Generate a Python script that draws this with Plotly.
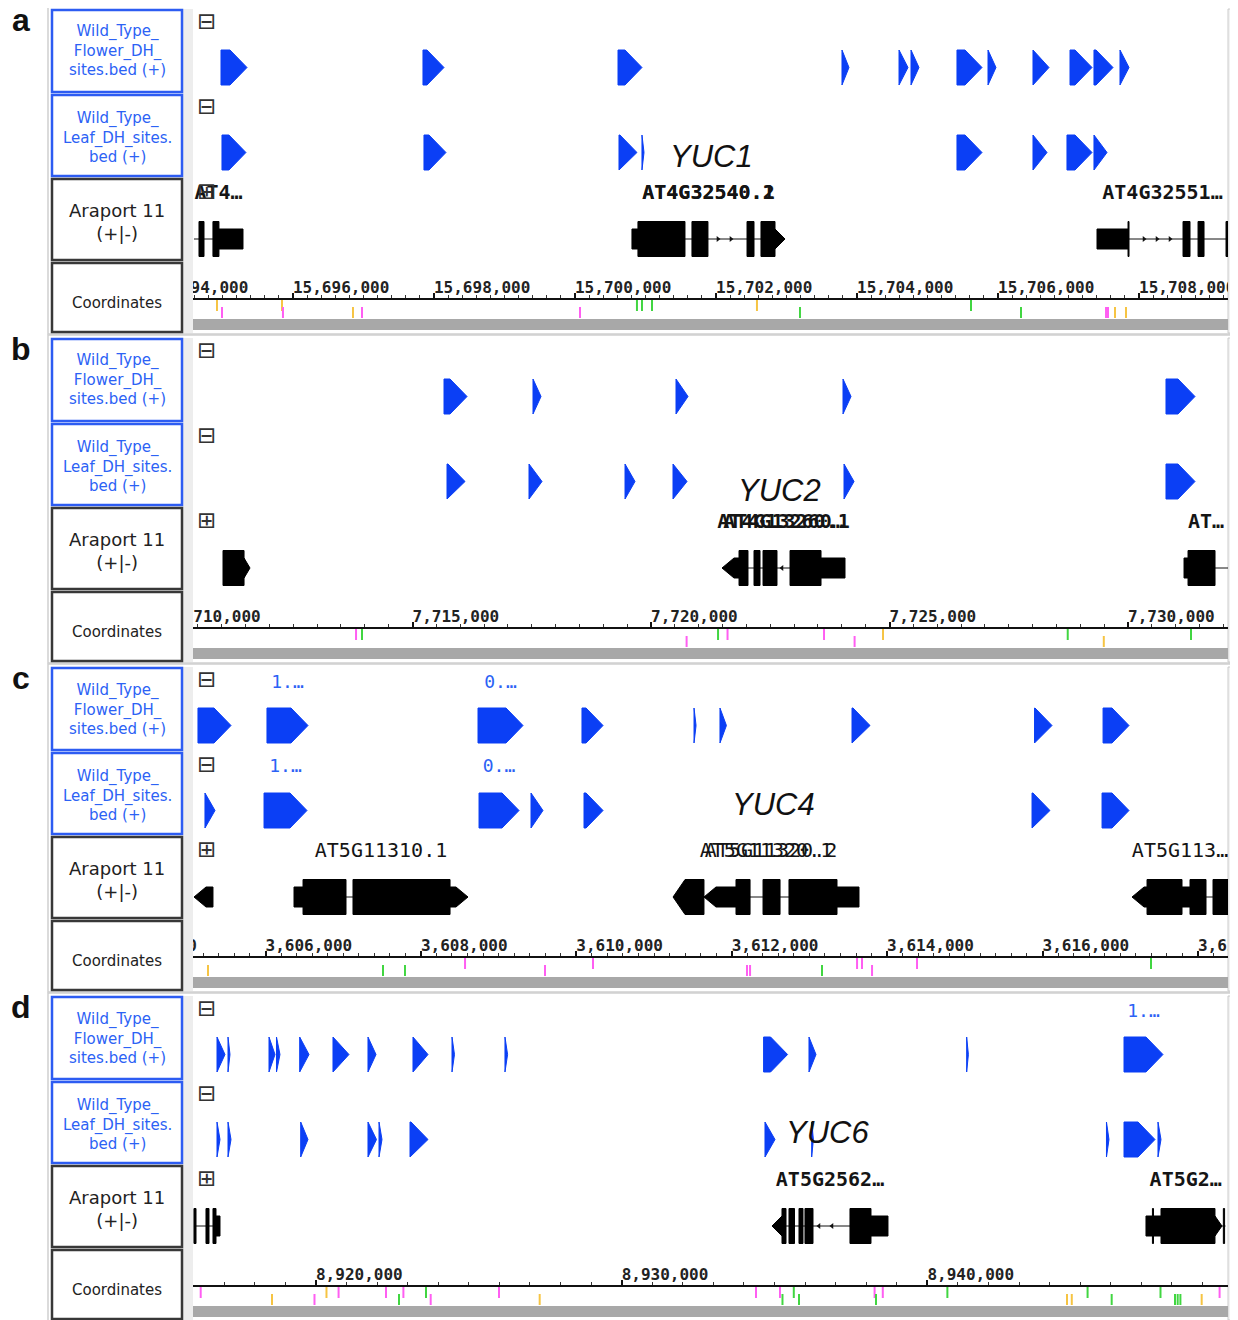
import numpy as np
import plotly.graph_objects as go

# page body adds an 8px margin, so the figure is drawn 8px in from the corner
OFF = 8
W, H = 1238 - OFF, 1320 - OFF

# ------------------------------------------------------------------ data
panel_letters = ["a", "b", "c", "d"]
yuc_names = ["YUC1", "YUC2", "YUC4", "YUC6"]
track_titles = ["Wild_Type_<br>Flower_DH_<br>sites.bed (+)",
                "Wild_Type_<br>Leaf_DH_sites.<br>bed (+)",
                "Araport 11<br>(+|-)",
                "Coordinates"]

# visible genomic window and major tick step of each panel
view_ranges = [(15694582, 15709262), (7710398, 7732096),
               (3605067, 3618387), (8915977, 8949832)]
major_steps = [2000, 5000, 2000, 10000]

# ---- panel a (YUC1)
flower_a = [(15694979, 15695348), (15697844, 15698142), (15700610, 15700950),
            (15703787, 15703886), (15704596, 15704723), (15704766, 15704879),
            (15705418, 15705773), (15705858, 15705971), (15706496, 15706723),
            (15707021, 15707333), (15707361, 15707631), (15707730, 15707858)]
flower_a_names = [""] * 12
leaf_a = [(15694993, 15695333), (15697858, 15698170), (15700624, 15700879),
          (15700950, 15700979), (15705418, 15705773), (15706496, 15706695),
          (15706978, 15707333), (15707361, 15707546)]
leaf_a_names = [""] * 8
genes_a = [
    dict(labels=["AT4…"], strand="+", intron=(15694596, 15695291),
         blocks=[(15694667, 15694738, "C"), (15694865, 15694950, "C"), (15694950, 15695291, "U")]),
    dict(labels=["AT4G32540.1", "AT4G32540.2"], strand="+", intron=(15700808, 15702979),
         blocks=[(15700808, 15700893, "U"), (15700893, 15701560, "C"), (15701659, 15701886, "C"),
                 (15702440, 15702539, "C"), (15702638, 15702837, "C"), (15702837, 15702979, "UR")]),
    dict(labels=["AT4G32551…"], strand="+", intron=(15707404, 15709290),
         blocks=[(15707404, 15707844, "U"), (15707844, 15707858, "C"), (15708624, 15708723, "C"),
                 (15708837, 15708922, "C"), (15709234, 15709262, "C")]),
]
marks_a = [(15694922, "Y", 0), (15694993, "P", 1), (15695844, "Y", 0), (15695858, "P", 1),
           (15696851, "Y", 1), (15696979, "P", 1), (15700071, "P", 1), (15700879, "G", 0),
           (15700950, "G", 0), (15701092, "G", 0), (15702581, "Y", 0), (15703191, "G", 1),
           (15705617, "G", 0), (15706326, "G", 1), (15707532, "P", 1), (15707560, "P", 1),
           (15707659, "Y", 1), (15707815, "Y", 1)]

# ---- panel b (YUC2)
flower_b = [(7715660, 7716143), (7717526, 7717694), (7720524, 7720776),
            (7724025, 7724193), (7730796, 7731404)]
flower_b_names = [""] * 5
leaf_b = [(7715723, 7716101), (7717442, 7717715), (7719455, 7719664),
          (7720461, 7720755), (7724046, 7724256), (7730796, 7731404)]
leaf_b_names = [""] * 6
genes_b = [
    dict(labels=[], strand="+", intron=None,
         blocks=[(7711027, 7711468, "C"), (7711468, 7711593, "UR")]),
    dict(labels=["AT4G13260.1", "AT4G13260…"], strand="-", intron=(7721488, 7724067),
         blocks=[(7721488, 7721845, "UL"), (7721845, 7722033, "C"), (7722159, 7722285, "C"),
                 (7722348, 7722641, "C"), (7722914, 7723564, "C"), (7723564, 7724067, "U")]),
    dict(labels=["AT…"], strand="+", intron=(7731174, 7732243),
         blocks=[(7731174, 7731258, "U"), (7731258, 7731824, "C")]),
]
marks_b = [(7713816, "P", 0), (7713941, "G", 0), (7720746, "P", 1), (7721405, "G", 0),
           (7721604, "P", 0), (7723627, "P", 0), (7724268, "P", 1), (7724864, "Y", 0),
           (7728736, "G", 0), (7729492, "Y", 1), (7731320, "G", 0)]

# ---- panel c (YUC4)
flower_c = [(3605131, 3605556), (3606019, 3606547), (3608735, 3609314),
            (3610073, 3610344), (3611515, 3611541), (3611849, 3611932),
            (3613548, 3613780), (3615897, 3616122), (3616779, 3617113)]
flower_c_names = ["", "1.…", "0.…", "", "", "", "", "", ""]
leaf_c = [(3605221, 3605350), (3605981, 3606534), (3608748, 3609263),
          (3609417, 3609571), (3610099, 3610344), (3615865, 3616096),
          (3616766, 3617113)]
leaf_c_names = ["", "1.…", "0.…", "", "", "", ""]
genes_c = [
    dict(labels=[], strand="-", intron=None, blocks=[(3605080, 3605324, "UL")]),
    dict(labels=["AT5G11310.1"], strand="+", intron=(3606367, 3608606),
         blocks=[(3606367, 3606483, "U"), (3606483, 3607036, "C"), (3607126, 3608375, "C"),
                 (3608375, 3608606, "UR")]),
    dict(labels=["AT5G11320.1", "AT5G11320.2"], strand="-", intron=(3611245, 3613638),
         blocks=[(3611245, 3611643, "CL"), (3611643, 3612055, "UL"), (3612055, 3612236, "C"),
                 (3612403, 3612622, "C"), (3612737, 3613355, "C"), (3613355, 3613638, "U")]),
    dict(labels=["AT5G113…"], strand="-", intron=(3617152, 3618477),
         blocks=[(3617152, 3617345, "UL"), (3617345, 3617795, "C"), (3617795, 3617898, "U"),
                 (3617898, 3618104, "C"), (3618194, 3618477, "C")]),
]
marks_c = [(3605260, "Y", 1), (3607512, "G", 1), (3607795, "G", 1), (3608568, "P", 0),
           (3609597, "P", 1), (3610215, "P", 0), (3612197, "P", 1), (3612236, "P", 1),
           (3613162, "G", 1), (3613613, "P", 0), (3613677, "P", 0), (3613806, "P", 1),
           (3614385, "P", 0), (3617396, "G", 0)]

# ---- panel d (YUC6)
flower_d = [(8916762, 8917023), (8917122, 8917187), (8918463, 8918659), (8918708, 8918822),
            (8919467, 8919771), (8920556, 8921079), (8921701, 8921963), (8923173, 8923664),
            (8924449, 8924530), (8926182, 8926267), (8934641, 8935426), (8936126, 8936355),
            (8941284, 8941340), (8946430, 8947705)]
flower_d_names = [""] * 13 + ["1.…"]
leaf_d = [(8916762, 8916860), (8917122, 8917220), (8919500, 8919738), (8921701, 8921979),
          (8922061, 8922159), (8923075, 8923664), (8934687, 8935014), (8936214, 8936270),
          (8945857, 8945939), (8946430, 8947444), (8947542, 8947640)]
leaf_d_names = [""] * 11
genes_d = [
    dict(labels=[], strand="+", intron=(8916009, 8916860),
         blocks=[(8916009, 8916075, "C"), (8916402, 8916500, "C"), (8916631, 8916729, "C"),
                 (8916729, 8916860, "U")]),
    dict(labels=["AT5G2562…"], strand="-", intron=(8934916, 8938710),
         blocks=[(8934916, 8935243, "UL"), (8935243, 8935374, "C"), (8935472, 8935652, "C"),
                 (8935799, 8935930, "C"), (8935995, 8936257, "C"), (8937467, 8938154, "C"),
                 (8938154, 8938710, "U")]),
    dict(labels=["AT5G2…"], strand="+", intron=(8947149, 8949750),
         blocks=[(8947149, 8947640, "U"), (8947360, 8947395, "C"), (8947640, 8949406, "C"),
                 (8949406, 8949635, "UR"), (8949680, 8949720, "C")]),
]
marks_d = [(8916229, "P", 0), (8918561, "Y", 1), (8919951, "P", 1), (8920343, "Y", 0),
           (8920739, "P", 0), (8922290, "P", 0), (8922715, "G", 1), (8922859, "P", 0),
           (8923598, "G", 0), (8923752, "P", 1), (8925986, "P", 0), (8927317, "Y", 1),
           (8934392, "P", 0), (8935177, "P", 0), (8935259, "G", 1), (8935629, "G", 0),
           (8935799, "G", 1), (8938272, "P", 0), (8938318, "G", 1), (8938540, "P", 0),
           (8940653, "G", 0), (8944565, "Y", 1), (8944722, "Y", 1), (8945239, "G", 0),
           (8946027, "G", 1), (8947624, "G", 0), (8948098, "G", 1), (8948186, "G", 1),
           (8948275, "G", 1), (8948971, "Y", 1), (8949557, "P", 0)]

panels = [
    dict(flower=flower_a, fnames=flower_a_names, leaf=leaf_a, lnames=leaf_a_names, genes=genes_a, marks=marks_a),
    dict(flower=flower_b, fnames=flower_b_names, leaf=leaf_b, lnames=leaf_b_names, genes=genes_b, marks=marks_b),
    dict(flower=flower_c, fnames=flower_c_names, leaf=leaf_c, lnames=leaf_c_names, genes=genes_c, marks=marks_c),
    dict(flower=flower_d, fnames=flower_d_names, leaf=leaf_d, lnames=leaf_d_names, genes=genes_d, marks=marks_d),
]

# ------------------------------------------------------------------ style / layout
X0, X1 = 193, 1228            # track area in window pixels
PANEL_TOP0, PITCH, PANEL_H = 9, 329, 324
BLUE = "#0b3ff5"
BOX_BLUE = "#2d5cf2"
TXT_BLUE = "#2c62f5"
mark_colors = {"Y": "#f6c443", "P": "#ff5ef2", "G": "#41d641"}
row_span = [(291, 302), (298, 309)]
Y_FLOWER, Y_LEAF, Y_GENE = 58.5, 143.5, 230
HALF_FEAT, HALF_CDS, HALF_UTR = 17.5, 17.5, 10
label_jitter_px = [0, 0, 5, 0]
gene_label_bold = [True, True, False, True]
yuc_pos = [(668, 157), (736, 490), (730, 804), (784, 1132)]


def px(x):
    return (x - OFF) / W


def py(y):
    return 1 - (y - OFF) / H


fig = go.Figure()
shapes, annotations = [], []
layout = {}

for i, P in enumerate(panels):
    T = PANEL_TOP0 + PITCH * i
    xr = "x" if i == 0 else f"x{i+1}"
    yr = "y" if i == 0 else f"y{i+1}"
    lo, hi = view_ranges[i]
    step = major_steps[i]
    bpp = (hi - lo) / (X1 - X0)

    # ---------------- blue DH-site features
    fx, fy = [], []
    for feats, yc in ((P["flower"], Y_FLOWER), (P["leaf"], Y_LEAF)):
        for s, e in feats:
            t = min(17 * bpp, e - s)
            fx += [s, e - t, e, e - t, s, s, None]
            fy += [yc - HALF_FEAT, yc - HALF_FEAT, yc, yc + HALF_FEAT, yc + HALF_FEAT, yc - HALF_FEAT, None]
    fig.add_trace(go.Scatter(x=fx, y=fy, mode="lines", fill="toself", fillcolor=BLUE,
                             line=dict(color=BLUE, width=1), xaxis=xr, yaxis=yr,
                             hoverinfo="skip", showlegend=False))

    # feature name labels
    lx, ly, lt = [], [], []
    for feats, names, yc in ((P["flower"], P["fnames"], 16), (P["leaf"], P["lnames"], 100)):
        for (s, e), nm in zip(feats, names):
            if nm:
                lx.append((s + e) / 2)
                ly.append(yc)
                lt.append(nm)
    if lt:
        fig.add_trace(go.Scatter(x=lx, y=ly, text=lt, mode="text", textposition="middle center",
                                 textfont=dict(family="DejaVu Sans Mono", size=18, color=TXT_BLUE),
                                 xaxis=xr, yaxis=yr, hoverinfo="skip", showlegend=False, cliponaxis=True))

    # ---------------- gene models
    gx, gy, ix, iy, cx, cy, csym = [], [], [], [], [], [], []
    glx, gly, glt = [], [], []
    for g in P["genes"]:
        for s, e, k in g["blocks"]:
            h = HALF_CDS if k[0] == "C" else HALF_UTR
            t = min(12 * bpp, e - s)
            top, bot = Y_GENE - h, Y_GENE + h
            if k.endswith("R"):
                gx += [s, e - t, e, e - t, s, s, None]
                gy += [top, top, Y_GENE, bot, bot, top, None]
            elif k.endswith("L"):
                gx += [e, s + t, s, s + t, e, e, None]
                gy += [top, top, Y_GENE, bot, bot, top, None]
            else:
                gx += [s, e, e, s, s, None]
                gy += [top, top, bot, bot, top, None]
        if g["intron"] is not None:
            s, e = g["intron"]
            ix += [s, e, None]
            iy += [Y_GENE, Y_GENE, None]
            for p in np.arange(s + 8 * bpp, e, 13 * bpp):
                if p < lo or p > hi:
                    continue
                if any(bs - 5 * bpp <= p <= be + 5 * bpp for bs, be, _ in g["blocks"]):
                    continue
                cx.append(p)
                cy.append(Y_GENE)
        all_s = [b[0] for b in g["blocks"]] + ([g["intron"][0]] if g["intron"] else [])
        all_e = [b[1] for b in g["blocks"]] + ([g["intron"][1]] if g["intron"] else [])
        gs, ge = max(min(all_s), lo), min(max(all_e), hi)
        for j, lab in enumerate(g["labels"]):
            glx.append((gs + ge) / 2 + j * label_jitter_px[i] * bpp)
            gly.append(185)
            glt.append(lab)
        csym_name = "triangle-right" if g["strand"] == "+" else "triangle-left"
        csym += [csym_name] * (len(cx) - len(csym))

    fig.add_trace(go.Scatter(x=ix, y=iy, mode="lines", line=dict(color="#111", width=1),
                             xaxis=xr, yaxis=yr, hoverinfo="skip", showlegend=False))
    if cx:
        fig.add_trace(go.Scatter(x=cx, y=cy, mode="markers",
                                 marker=dict(symbol=csym, size=5, color="#111"),
                                 xaxis=xr, yaxis=yr, hoverinfo="skip", showlegend=False))
    fig.add_trace(go.Scatter(x=gx, y=gy, mode="lines", fill="toself", fillcolor="#000",
                             line=dict(color="#000", width=1), xaxis=xr, yaxis=yr,
                             hoverinfo="skip", showlegend=False))
    fig.add_trace(go.Scatter(x=glx, y=gly, text=glt, mode="text", textposition="middle center",
                             textfont=dict(family="DejaVu Sans Mono", size=20, color="#151515",
                                           weight="bold" if gene_label_bold[i] else "normal"),
                             xaxis=xr, yaxis=yr, hoverinfo="skip", showlegend=False, cliponaxis=True))

    # ---------------- coloured marks under the ruler
    for key, col in mark_colors.items():
        mx, my = [], []
        for pos, c, r in P["marks"]:
            if c == key:
                mx += [pos, pos, None]
                my += [row_span[r][0], row_span[r][1], None]
        if mx:
            fig.add_trace(go.Scatter(x=mx, y=my, mode="lines", line=dict(color=col, width=2),
                                     xaxis=xr, yaxis=yr, hoverinfo="skip", showlegend=False))

    # ---------------- ruler labels (clipped at the track edges like IGV)
    tv = np.arange((lo // step) * step, hi + step, step)
    fig.add_trace(go.Scatter(x=tv, y=[280] * len(tv), text=[f"{int(v):,}" for v in tv],
                             mode="text", textposition="middle right",
                             textfont=dict(family="DejaVu Sans Mono", size=16, color="#222", weight="bold"),
                             xaxis=xr, yaxis=yr, hoverinfo="skip", showlegend=False, cliponaxis=True))

    xkey = "xaxis" if i == 0 else f"xaxis{i+1}"
    ykey = "yaxis" if i == 0 else f"yaxis{i+1}"
    layout[xkey] = dict(domain=[px(X0), px(X1)], range=[lo, hi], anchor="free",
                        position=py(T + 289.5), showline=True, linecolor="#111", linewidth=2,
                        ticks="inside", ticklen=5, tickwidth=2, tickcolor="#111",
                        tickmode="linear", tick0=0, dtick=step, showticklabels=False,
                        showgrid=False, zeroline=False, fixedrange=True,
                        minor=dict(ticks="inside", ticklen=3, tickwidth=1, tickcolor="#333",
                                   tick0=0, dtick=step / 10, showgrid=False))
    layout[ykey] = dict(domain=[max(0, py(T + PANEL_H)), min(1, py(T))], range=[PANEL_H, 0],
                        visible=False, anchor=xr, fixedrange=True)

    # ---------------- frame, strips and label boxes
    shapes.append(dict(type="rect", xref="paper", yref="paper", x0=px(48), x1=px(1233),
                       y0=py(T + 325), y1=py(T - 3), line=dict(color="#cfcfcf", width=1.5),
                       layer="below"))
    shapes.append(dict(type="rect", xref="paper", yref="paper", x0=px(183), x1=px(X0),
                       y0=py(T + 324), y1=py(T), fillcolor="#ededed", line=dict(width=0),
                       layer="below"))
    shapes.append(dict(type="rect", xref="paper", yref="paper", x0=px(X1), x1=px(1233),
                       y0=py(T + 324), y1=py(T), fillcolor="#f2f2f2",
                       line=dict(color="#cccccc", width=1), layer="below"))
    shapes.append(dict(type="rect", xref="paper", yref="paper", x0=px(X0), x1=px(X1),
                       y0=py(T + 321), y1=py(T + 310), fillcolor="#a8a8a8", line=dict(width=0),
                       layer="below"))
    boxes = [(1, 83), (86, 167), (170, 251), (254, 323)]
    centers = [42, 128, 212.5, 294]
    for k, ((b0, b1), cyy) in enumerate(zip(boxes, centers)):
        is_bed = k < 2
        shapes.append(dict(type="rect", xref="paper", yref="paper", x0=px(52), x1=px(182),
                           y0=py(T + b1), y1=py(T + b0), fillcolor="white",
                           line=dict(color=BOX_BLUE if is_bed else "#383838", width=2.5),
                           layer="below"))
        annotations.append(dict(x=px(117), y=py(T + cyy), xref="paper", yref="paper",
                                text=track_titles[k], showarrow=False, xanchor="center",
                                yanchor="middle", align="center",
                                font=dict(family="DejaVu Sans",
                                          size=18 if k == 2 else 15,
                                          color=TXT_BLUE if is_bed else "#222")))
    for sym, yy in (("⊟", 12), ("⊟", 97), ("⊞", 182)):
        annotations.append(dict(x=px(206), y=py(T + yy), xref="paper", yref="paper", text=sym,
                                showarrow=False, xanchor="center", yanchor="middle",
                                font=dict(family="DejaVu Sans", size=23, color="#333")))
    annotations.append(dict(x=px(21), y=py(T + 11), xref="paper", yref="paper",
                            text=f"<b>{panel_letters[i]}</b>", showarrow=False,
                            xanchor="center", yanchor="middle",
                            font=dict(family="Liberation Sans", size=32, color="#111")))
    ux, uy = yuc_pos[i]
    annotations.append(dict(x=px(ux), y=py(uy), xref="paper", yref="paper",
                            text=f"<i>{yuc_names[i]}</i>", showarrow=False,
                            xanchor="left", yanchor="middle",
                            font=dict(family="Liberation Sans", size=31, color="#111")))

fig.update_layout(width=W, height=H, margin=dict(l=0, r=0, t=0, b=0),
                  paper_bgcolor="white", plot_bgcolor="rgba(0,0,0,0)",
                  shapes=shapes, annotations=annotations, showlegend=False, **layout)
fig.write_html("out.html")
